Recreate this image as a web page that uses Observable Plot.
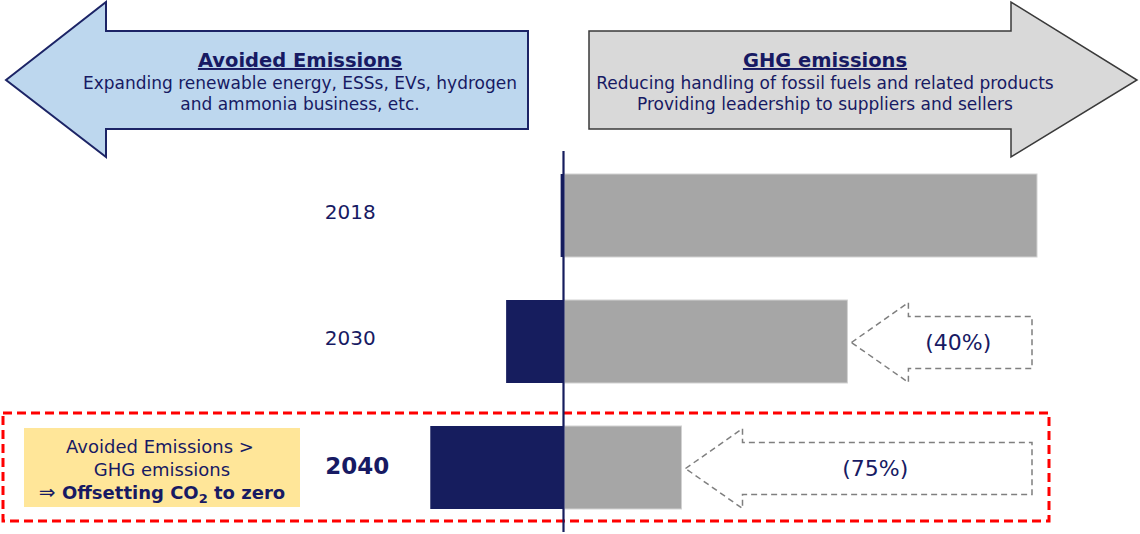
<!DOCTYPE html>
<html>
<head>
<meta charset="utf-8">
<script src="https://cdn.jsdelivr.net/npm/d3@7"></script>
<script src="https://cdn.jsdelivr.net/npm/@observablehq/plot@0.6"></script>
<style>
  html, body { margin: 0; padding: 0; background: #ffffff; }
  #chart { width: 1140px; height: 534px; }
</style>
</head>
<body>
<div id="chart"></div>
<script>
// ---- data ----
const years = ["2018", "2030", "2040"];
const avoidedEmissions = [0.5, 12, 28];   // % of 2018 GHG (drawn to the left)
const ghgEmissions = [100, 60, 25];       // % of 2018 GHG (drawn to the right)
const reductionLabels = ["", "(40%)", "(75%)"];
const leftHeader = ["Avoided Emissions", "Expanding renewable energy, ESSs, EVs, hydrogen", "and ammonia business, etc."];
const rightHeader = ["GHG emissions", "Reducing handling of fossil fuels and related products", "Providing leadership to suppliers and sellers"];
const noteLines = ["Avoided Emissions >", "GHG emissions", "Offsetting CO", "2", " to zero"];

const rows = years.map((year, i) => ({
  year, avoided: -avoidedEmissions[i], ghg: ghgEmissions[i], label: reductionLabels[i]
}));

const NAVY = "#161d5e";
const TEXT = "#171a63";
const GRAY = "#a6a6a6";
const FONT = "DejaVu Sans";

// header arrows + annotations drawn with the plot's scales
function annotations(index, scales, values, dim) {
  const x = scales.x, y = scales.y;
  const bw = typeof y.bandwidth === "function" ? y.bandwidth() : 84;
  const g = d3.create("svg:g").attr("font-family", FONT);

  // header arrows
  const leftPts = [[6,80],[106,2],[106,31],[528,31],[528,129],[106,129],[106,157]];
  const rightPts = [[589,31],[1011,31],[1011,2],[1137,80],[1011,157],[1011,129],[589,129]];
  g.append("polygon").attr("points", leftPts.join(" "))
    .attr("fill", "#bdd7ee").attr("stroke", "#1c2466").attr("stroke-width", 2);
  g.append("polygon").attr("points", rightPts.join(" "))
    .attr("fill", "#d9d9d9").attr("stroke", "#3a3a3a").attr("stroke-width", 1.5);
  const headers = [[leftHeader, 300], [rightHeader, 825]];
  for (const [lines, cx] of headers) {
    const t = g.append("g").attr("fill", TEXT).attr("text-anchor", "middle");
    t.append("text").attr("x", cx).attr("y", 67).attr("font-size", 19.5)
      .attr("font-weight", "bold").attr("text-decoration", "underline").text(lines[0]);
    t.append("text").attr("x", cx).attr("y", 89).attr("font-size", 17).text(lines[1]);
    t.append("text").attr("x", cx).attr("y", 110).attr("font-size", 17).text(lines[2]);
  }

  // red dashed frame around the 2040 row
  const y40 = y("2040");
  g.append("rect").attr("x", 3).attr("y", y40 - 13).attr("width", 1046).attr("height", bw + 25)
    .attr("fill", "none").attr("stroke", "#ff0000").attr("stroke-width", 3)
    .attr("stroke-dasharray", "9 5");

  // yellow note box
  g.append("rect").attr("x", 24).attr("y", y40 + 2).attr("width", 276).attr("height", bw - 4)
    .attr("fill", "#ffe699");
  const nt = g.append("g").attr("fill", TEXT).attr("text-anchor", "middle").attr("font-size", 18);
  nt.append("text").attr("x", 160).attr("y", y40 + 27).text(noteLines[0]);
  nt.append("text").attr("x", 162).attr("y", y40 + 50).text(noteLines[1]);
  const l3 = nt.append("text").attr("x", 162).attr("y", y40 + 73);
  l3.append("tspan").attr("font-size", 20).text("\u21D2 ");
  l3.append("tspan").attr("font-weight", "bold").text(noteLines[2]);
  l3.append("tspan").attr("font-weight", "bold").attr("font-size", 13).attr("dy", 4).text(noteLines[3]);
  l3.append("tspan").attr("font-weight", "bold").attr("dy", -4).text(noteLines[4]);

  // dashed reduction arrows: from current GHG level back to the 2018 level
  const base = ghgEmissions[0];
  for (const r of rows) {
    if (!r.label) continue;
    const tip = x(r.ghg) + 4;
    const end = x(base) - 5;
    const cy = y(r.year) + bw / 2 + 1;
    const hb = tip + 57;
    const pts = [[tip, cy],[hb, cy - 40],[hb, cy - 26],[end, cy - 26],[end, cy + 26],[hb, cy + 26],[hb, cy + 40]];
    g.append("polygon").attr("points", pts.join(" "))
      .attr("fill", "white").attr("stroke", "#7f7f7f").attr("stroke-width", 1.5)
      .attr("stroke-dasharray", "6 4");
    g.append("text").attr("x", (hb + end) / 2 - 12).attr("y", cy).attr("dy", "0.36em")
      .attr("text-anchor", "middle").attr("font-size", 22).attr("fill", TEXT).text(r.label);
  }
  return g.node();
}

const pxPerUnit = 4.74;
const zeroPx = 563;

const chart = Plot.plot({
  width: 1140,
  height: 534,
  marginLeft: 0,
  marginRight: 0,
  marginTop: 151,
  marginBottom: 2,
  style: { background: "white", fontFamily: FONT, overflow: "visible" },
  x: { domain: [-zeroPx / pxPerUnit, (1140 - zeroPx) / pxPerUnit], axis: null },
  y: { domain: years, range: [130, 554], padding: 0.3386, axis: null },
  marks: [
    annotations,
    Plot.barX(rows, { y: "year", x1: 0, x2: "ghg", fill: GRAY, stroke: "#d2d2d2", strokeWidth: 1, insetLeft: 1.5 }),
    Plot.barX(rows, { y: "year", x1: "avoided", x2: 0, fill: NAVY }),
    Plot.ruleX([0], { stroke: NAVY, strokeWidth: 2.2 }),
    Plot.text(rows.filter(d => d.year !== "2040"), { x: -45, y: "year", dy: -3, text: "year", fontSize: 20, fill: TEXT }),
    Plot.text(rows.filter(d => d.year === "2040"), { x: -43.5, y: "year", dy: -1, text: "year", fontSize: 23, fontWeight: "bold", fill: TEXT })
  ]
});
document.getElementById("chart").appendChild(chart);
</script>
</body>
</html>
